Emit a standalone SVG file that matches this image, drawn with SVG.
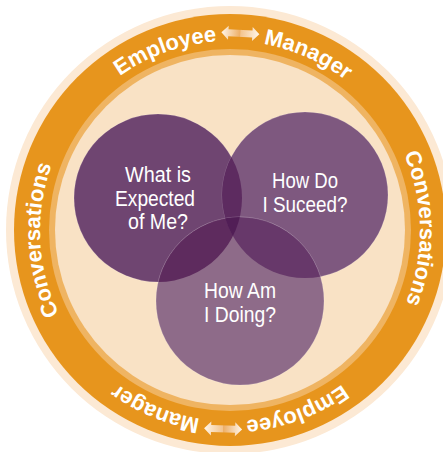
<svg xmlns="http://www.w3.org/2000/svg" width="443" height="452" viewBox="0 0 443 452">
  <style>
    .ring-text { font-family: "Liberation Sans", Arial, sans-serif; font-weight: bold; font-size: 22px; fill: #ffffff; }
    .venn-text { font-family: "Liberation Sans", Arial, sans-serif; font-size: 22px; fill: #ffffff; text-anchor: middle; }
    .edge { stroke: #ffffff; stroke-opacity: 0.22; stroke-width: 0.7; }
  </style>
  <defs>
    <path id="ringPath" d="M230,41 A190,190 0 1 1 230,421 A190,190 0 1 1 230,41 A190,190 0 1 1 230,421 A190,190 0 1 1 230,41"/>
    <linearGradient id="arrowGrad" x1="0" y1="0" x2="1" y2="0">
      <stop offset="0" stop-color="#FFF6EA"/>
      <stop offset="0.49" stop-color="#EDAF68"/>
      <stop offset="0.51" stop-color="#F3C48E"/>
      <stop offset="1" stop-color="#FFF6EA"/>
    </linearGradient>
    <polygon id="dblArrow" points="-19,0 -12,-7 -12,-3.5 12,-3.5 12,-7 19,0 12,7 12,3.5 -12,3.5 -12,7" fill="url(#arrowGrad)"/>
    <clipPath id="clip1"><circle cx="158" cy="198" r="84"/></clipPath>
    <clipPath id="clip2"><circle cx="305" cy="195" r="83"/></clipPath>
  </defs>

  <g id="ring">
    <circle cx="230" cy="230" r="224" fill="#FCE9D4"/>
    <circle cx="230" cy="230" r="216" fill="#E7951D"/>
    <circle cx="230" cy="230" r="181" fill="#EFB462"/>
    <circle cx="230" cy="230" r="175" fill="#F9E2C5"/>
    <text class="ring-text"><textPath href="#ringPath" startOffset="1180" text-anchor="end">Employee</textPath></text>
    <text class="ring-text"><textPath href="#ringPath" startOffset="1227">Manager</textPath></text>
    <text class="ring-text"><textPath href="#ringPath" startOffset="1489" text-anchor="middle">Conversations</textPath></text>
    <text class="ring-text"><textPath href="#ringPath" startOffset="1774" text-anchor="end">Employee</textPath></text>
    <text class="ring-text"><textPath href="#ringPath" startOffset="1820">Manager</textPath></text>
    <text class="ring-text"><textPath href="#ringPath" startOffset="2079" text-anchor="middle">Conversations</textPath></text>
  </g>

  <g id="connectors">
    <use href="#dblArrow" transform="rotate(3 230 231) translate(230 33)"/>
    <use href="#dblArrow" transform="rotate(182 230 231) translate(230 33)"/>
  </g>

  <g id="expected">
    <circle cx="158" cy="198" r="84" fill="#6F4571" class="edge"/>
  </g>
  <g id="succeed">
    <circle cx="305" cy="195" r="83" fill="#7E587F" class="edge"/>
  </g>
  <g id="doing">
    <circle cx="240" cy="301" r="84" fill="#8E6B89" class="edge"/>
  </g>
  <g id="overlaps">
    <circle cx="305" cy="195" r="83" fill="#5D2B60" clip-path="url(#clip1)"/>
    <circle cx="240" cy="301" r="84" fill="#5E2B5E" clip-path="url(#clip1)" class="edge"/>
    <circle cx="240" cy="301" r="84" fill="#67386A" clip-path="url(#clip2)" class="edge"/>
    <g clip-path="url(#clip2)">
      <circle cx="240" cy="301" r="84" fill="#511E56" clip-path="url(#clip1)"/>
    </g>
  </g>

  <g id="labels">
    <text class="venn-text" x="158" y="182" textLength="66" lengthAdjust="spacingAndGlyphs">What is</text>
    <text class="venn-text" x="155" y="206" textLength="80" lengthAdjust="spacingAndGlyphs">Expected</text>
    <text class="venn-text" x="158" y="229" textLength="60" lengthAdjust="spacingAndGlyphs">of Me?</text>
    <text class="venn-text" x="305" y="188" textLength="66" lengthAdjust="spacingAndGlyphs">How Do</text>
    <text class="venn-text" x="305" y="212" textLength="85" lengthAdjust="spacingAndGlyphs">I Suceed?</text>
    <text class="venn-text" x="240" y="298" textLength="72" lengthAdjust="spacingAndGlyphs">How Am</text>
    <text class="venn-text" x="240" y="322" textLength="72" lengthAdjust="spacingAndGlyphs">I Doing?</text>
  </g>
</svg>
